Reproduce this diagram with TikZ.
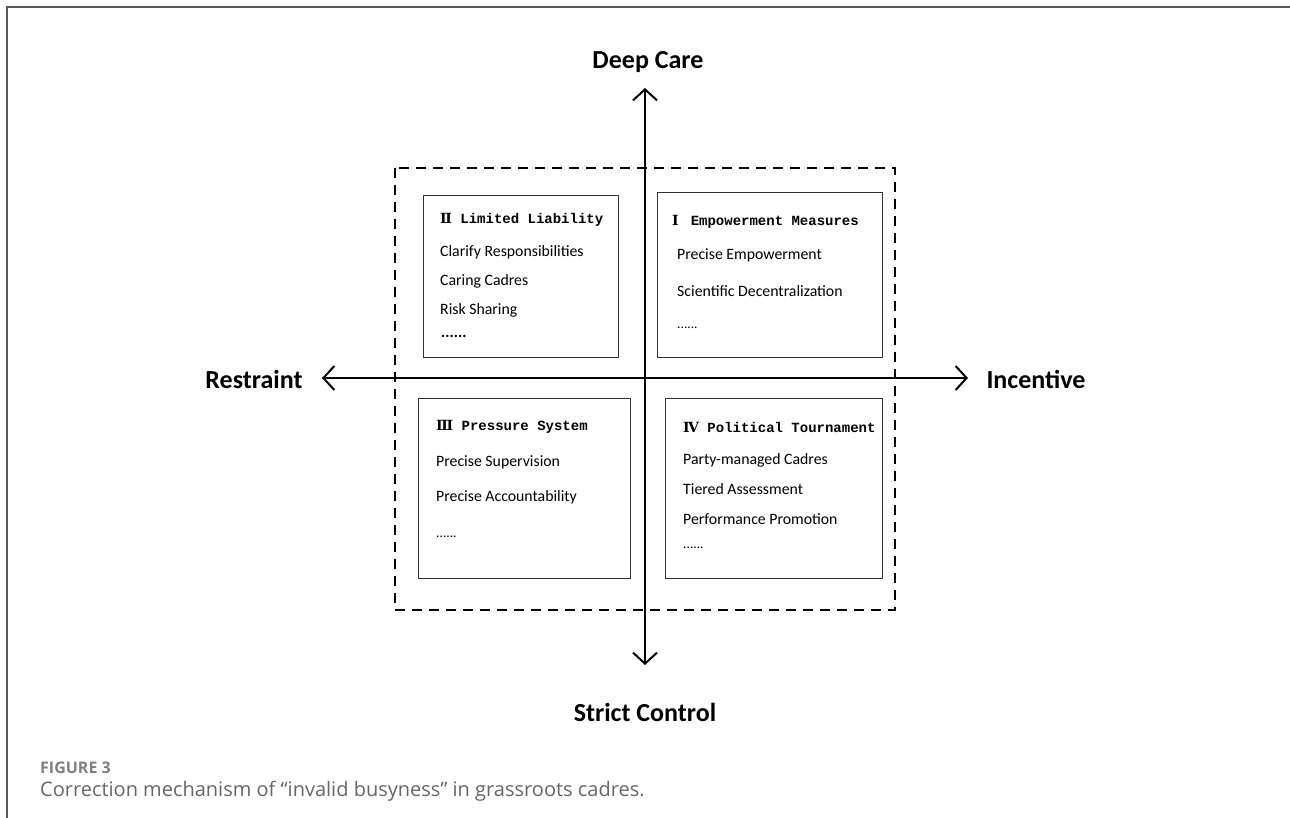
\documentclass[tikz,border=0pt]{standalone}
\usepackage{fontspec}
\setmainfont{Carlito}
\newfontfamily\titlefont{Liberation Mono}
\newfontfamily\romfont{DejaVu Serif}
\newfontfamily\capfont{Open Sans}
\usetikzlibrary{arrows.meta}
\begin{document}
\begin{tikzpicture}[x=1pt,y=-1pt,
  axis/.style={line width=2pt,{Straight Barb[length=11pt,width=24pt,line width=2pt]}-{Straight Barb[length=11pt,width=24pt,line width=2pt]}},
  axlabel/.style={font=\fontsize{26}{30}\selectfont\bfseries},
  quad/.style={draw=black!80,line width=1.3pt},
  ttl/.style={anchor=west,inner sep=0pt,font=\fontsize{14}{16}\selectfont\titlefont\bfseries},
  itm/.style={anchor=west,inner sep=0pt,font=\fontsize{15.8}{18}\selectfont},
  dots/.style={anchor=west,inner sep=0pt,font=\fontsize{13.5}{15}\selectfont},
  outer/.style={draw,line width=2pt,dash pattern=on 10pt off 7pt}]
\useasboundingbox (0,0) rectangle (1290,818);
\draw[black!65,line width=2pt] (7,818) -- (7,7) -- (1290,7);
% outer dashed frame
\draw[outer] (395,168) rectangle (895,610);
% quadrant boxes
\node[quad,minimum width=195pt,minimum height=162pt,anchor=north west] (b2) at (423,195) {};
\node[quad,minimum width=225pt,minimum height=165pt,anchor=north west] (b1) at (657,192) {};
\node[quad,minimum width=212pt,minimum height=180pt,anchor=north west] (b3) at (418,398) {};
\node[quad,minimum width=217pt,minimum height=180pt,anchor=north west] (b4) at (665,398) {};
% axes
\node[axlabel] (dc) at (648,62) {Deep Care};
\node[axlabel] (sc) at (645,712) {Strict Control};
\node[axlabel] (rs) at (254,379) {Restraint};
\node[axlabel] (ic) at (1036,379) {Incentive};
\coordinate (top) at (645,88);
\coordinate (bot) at (645,665);
\coordinate (lft) at (322,378);
\coordinate (rgt) at (968,378);
\draw[axis] (bot) -- (top);
\draw[axis] (lft) -- (rgt);
% box II
\node[ttl] (t2) at (440,220) {{\romfont Ⅱ} Limited Liability};
\node[itm] (i21) at (440,252) {Clarify Responsibilities};
\node[itm] (i22) at (440,281) {Caring Cadres};
\node[itm] (i23) at (440,310) {Risk Sharing};
\node[itm,font=\fontsize{15.8}{18}\selectfont\bfseries] (i24) at (441,336) {......};
% box I
\node[ttl] (t1) at (672,222) {{\romfont Ⅰ}\hspace{12pt}Empowerment Measures};
\node[itm] (i11) at (677,255) {Precise Empowerment};
\node[itm] (i12) at (677,291) {Scientific Decentralization};
\node[dots] (i13) at (677,328) {......};
% box III
\node[ttl] (t3) at (436,427) {{\romfont Ⅲ} Pressure System};
\node[itm] (i31) at (436,462) {Precise Supervision};
\node[itm] (i32) at (436,497) {Precise Accountability};
\node[dots] (i33) at (436,537) {......};
% box IV
\node[ttl] (t4) at (683,427) {{\romfont Ⅳ} Political Tournament};
\node[itm] (i41) at (683,460) {Party-managed Cadres};
\node[itm] (i42) at (683,489) {Tiered Assessment};
\node[itm] (i43) at (683,519) {Performance Promotion};
\node[dots] (i44) at (683,548) {......};
% caption
\node[anchor=west,inner sep=0pt,text=black!50,font=\fontsize{16}{18}\selectfont\capfont\bfseries] (fig) at (40,768) {FIGURE 3};
\node[anchor=west,inner sep=0pt,text=black!60,font=\fontsize{20}{23}\selectfont\capfont] (cap) at (40,791) {Correction mechanism of “invalid busyness” in grassroots cadres.};
\end{tikzpicture}
\end{document}
